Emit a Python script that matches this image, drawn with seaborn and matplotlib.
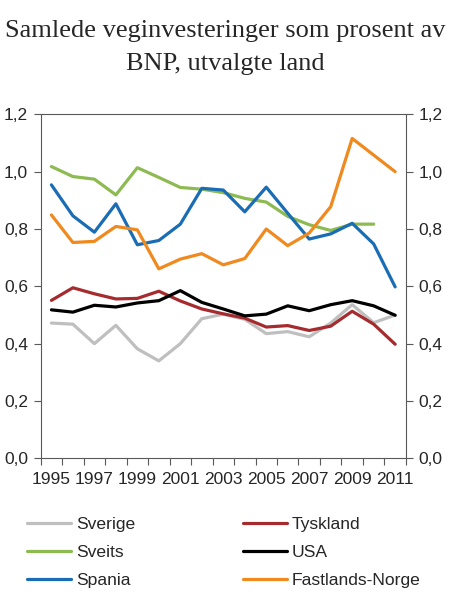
import numpy as np
import pandas as pd
import matplotlib
matplotlib.use("Agg")
import matplotlib.pyplot as plt
import seaborn as sns
from matplotlib.ticker import FuncFormatter, MultipleLocator

# -----------------------------
# Data
# -----------------------------
years = list(range(1995, 2012))

sverige = [0.472, 0.468, 0.400, 0.464, 0.382, 0.340, 0.400, 0.487, 0.503, 0.485,
           0.435, 0.442, 0.424, 0.472, 0.536, 0.473, 0.500]
tyskland = [0.551, 0.595, 0.574, 0.556, 0.558, 0.583, 0.549, 0.521, 0.504, 0.489,
            0.458, 0.463, 0.446, 0.461, 0.513, 0.468, 0.398]
sveits = [1.018, 0.983, 0.974, 0.919, 1.014, 0.980, 0.945, 0.939, 0.927, 0.907,
          0.894, 0.844, 0.815, 0.795, 0.817, 0.817, np.nan]
usa = [0.518, 0.510, 0.534, 0.528, 0.542, 0.550, 0.585, 0.544, 0.521, 0.497,
       0.503, 0.532, 0.515, 0.536, 0.550, 0.532, 0.499]
spania = [0.954, 0.846, 0.789, 0.888, 0.745, 0.760, 0.817, 0.942, 0.936, 0.860,
          0.946, 0.855, 0.765, 0.783, 0.820, 0.748, 0.598]
norge = [0.849, 0.753, 0.757, 0.809, 0.797, 0.661, 0.695, 0.714, 0.675, 0.697,
         0.800, 0.742, 0.786, 0.878, 1.116, 1.058, 1.000]

series = {
    "Sverige": sverige,
    "Sveits": sveits,
    "Spania": spania,
    "Tyskland": tyskland,
    "USA": usa,
    "Fastlands-Norge": norge,
}
colors = {
    "Sverige": "#BFBFBF",
    "Sveits": "#8DBB52",
    "Spania": "#1A6DB5",
    "Tyskland": "#A62B2E",
    "USA": "#000000",
    "Fastlands-Norge": "#F0891E",
}

rows = []
for name, vals in series.items():
    for y, v in zip(years, vals):
        rows.append({"year": y, "value": v, "land": name})
df = pd.DataFrame(rows).dropna()

# -----------------------------
# Style
# -----------------------------
sns.set_style("white")
plt.rcParams["font.family"] = ["Liberation Sans", "DejaVu Sans"]

fig = plt.figure(figsize=(4.5, 6.02), dpi=100)
ax = fig.add_axes([0.0904, 0.2387, 0.8116, 0.5713])

draw_order = ["Sverige", "Sveits", "Spania", "Fastlands-Norge", "Tyskland", "USA"]
for name in draw_order:
    sns.lineplot(data=df[df["land"] == name], x="year", y="value",
                 color=colors[name], linewidth=2.3, ax=ax, label=name)

ax.set_xlim(1994.5, 2011.5)
ax.set_ylim(0, 1.2)
ax.set_xlabel("")
ax.set_ylabel("")

ax.yaxis.set_major_locator(MultipleLocator(0.2))
ax.yaxis.set_major_formatter(FuncFormatter(lambda v, p: f"{v:.1f}".replace(".", ",")))
ax.set_xticks(years[::2])
ax.set_xticklabels([str(y) for y in years[::2]])
ax.set_xticks(np.arange(1994.5, 2012, 1.0), minor=True)

ax.tick_params(axis="y", which="major", left=True, right=True, labelleft=True,
               labelright=True, direction="out", length=5, width=0.8,
               color="#595959", labelsize=12.5, pad=4)
ax.tick_params(axis="x", which="major", length=0, labelsize=12.5, pad=10)
ax.tick_params(axis="x", which="minor", bottom=True, direction="out",
               length=5, width=0.8, color="#595959")

for s in ax.spines.values():
    s.set_visible(True)
    s.set_color("#595959")
    s.set_linewidth(0.8)

# legend
if ax.legend_:
    ax.legend_.remove()
handles = {h.get_label(): h for h in ax.get_lines()}
order = ["Sverige", "Sveits", "Spania", "Tyskland", "USA", "Fastlands-Norge"]
fig.legend([handles[n] for n in order], order, ncol=2, frameon=False,
           loc="upper left", bbox_to_anchor=(0.045, 0.153), fontsize=12.6,
           handlelength=2.5, handletextpad=0.27, columnspacing=6.2,
           labelspacing=0.72, borderaxespad=0)

serif = ["Liberation Serif", "DejaVu Serif"]
fig.text(0.5, 1 - 37 / 602, "Samlede veginvesteringer som prosent av",
         ha="center", va="baseline", fontsize=19, family=serif)
fig.text(0.5, 1 - 70 / 602, "BNP, utvalgte land",
         ha="center", va="baseline", fontsize=19, family=serif)

fig.savefig("out.png", dpi=100)
